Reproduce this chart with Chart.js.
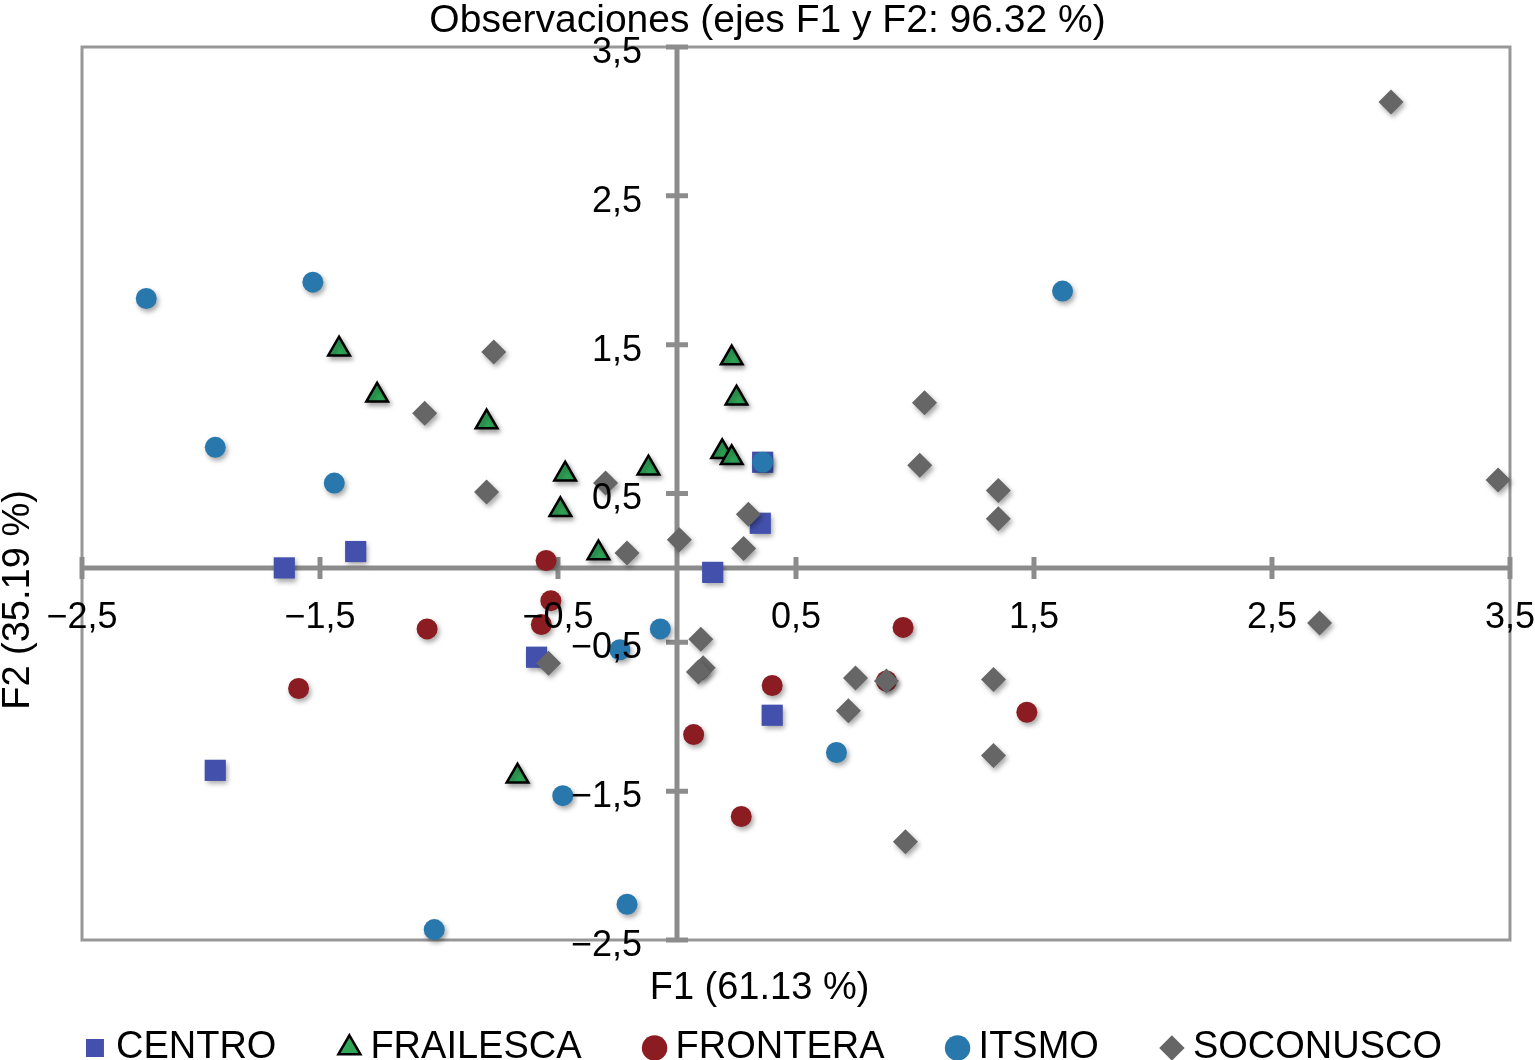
<!DOCTYPE html>
<html lang="es">
<head>
<meta charset="UTF-8">
<title>Observaciones (ejes F1 y F2: 96.32 %)</title>
<script src="https://cdn.jsdelivr.net/npm/chart.js@4"></script>
<style>
  html, body { margin: 0; padding: 0; background: #fff; }
  canvas { display: block; }
</style>
</head>
<body>
<canvas id="biplot" width="1535" height="1060"></canvas>
<script>
// categories (legend order)
const categories = ['CENTRO', 'FRAILESCA', 'FRONTERA', 'ITSMO', 'SOCONUSCO'];

const centro = [
  [-1.65, 0.00], [-1.35, 0.11], [-0.59, -0.60], [-1.94, -1.36],
  [0.15, -0.03], [0.36, 0.71], [0.35, 0.30], [0.40, -0.99]
];
const frailesca = [
  [-1.42, 1.47], [-1.26, 1.16], [-0.80, 0.98], [-0.47, 0.63],
  [-0.49, 0.39], [-0.33, 0.10], [-0.12, 0.67], [0.23, 1.41],
  [0.25, 1.14], [0.19, 0.78], [0.23, 0.74], [-0.67, -1.40]
];
const frontera = [
  [-0.55, 0.05], [-0.53, -0.22], [-0.57, -0.38], [-1.05, -0.41],
  [-1.59, -0.81], [0.07, -1.12], [0.27, -1.67], [0.40, -0.79],
  [0.88, -0.76], [0.95, -0.40], [1.47, -0.97]
];
const itsmo = [
  [-2.23, 1.81], [-1.53, 1.92], [-1.94, 0.81], [-1.44, 0.57],
  [-0.07, -0.41], [-0.24, -0.55], [-0.48, -1.53], [-0.21, -2.26],
  [-1.02, -2.43], [0.67, -1.24], [1.62, 1.86], [0.36, 0.71]
];
const soconusco = [
  [3.00, 3.13], [3.45, 0.59], [2.70, -0.37], [-0.77, 1.45],
  [-1.06, 1.04], [-0.80, 0.51], [-0.30, 0.57], [-0.21, 0.10],
  [0.01, 0.19], [0.28, 0.13], [0.30, 0.36], [1.04, 1.11],
  [1.02, 0.69], [1.35, 0.52], [1.35, 0.33], [0.10, -0.48],
  [0.11, -0.67], [0.09, -0.70], [-0.54, -0.64], [0.75, -0.74],
  [0.88, -0.76], [0.72, -0.96], [1.33, -0.75], [1.33, -1.26],
  [0.96, -1.84]
];

// tick values
const xTicks = [-2.5, -1.5, -0.5, 0.5, 1.5, 2.5, 3.5];
const yTicks = [-2.5, -1.5, -0.5, 0.5, 1.5, 2.5, 3.5];

const chartTitle = 'Observaciones (ejes F1 y F2: 96.32 %)';
const xTitle = 'F1 (61.13 %)';
const yTitle = 'F2 (35.19 %)';

const AXIS_GREY = '#8c8c8c';
const BOX_GREY = '#979797';

Chart.defaults.font.family = "'Liberation Sans', Arial, Helvetica, sans-serif";
Chart.defaults.color = '#000';

// decimal comma and a real minus sign, as in the original
const fmt = v => (v < 0 ? '\u2212' : '') + Math.abs(v).toFixed(1).replace('.', ',');
const toPoints = arr => arr.map(([x, y]) => ({ x, y }));

// frame, zero axes with crossing ticks, axis titles, point shadows
const decor = {
  id: 'decor',
  beforeDatasetsDraw(chart) {
    const { ctx, chartArea: a, scales: { x, y } } = chart;
    const x0 = x.getPixelForValue(0);
    const y0 = y.getPixelForValue(0);
    ctx.save();
    ctx.strokeStyle = BOX_GREY;
    ctx.lineWidth = 3;
    ctx.strokeRect(a.left, a.top, a.right - a.left, a.bottom - a.top);
    ctx.strokeStyle = AXIS_GREY;
    ctx.lineWidth = 5;
    ctx.beginPath();
    ctx.moveTo(a.left, y0);
    ctx.lineTo(a.right, y0);
    ctx.moveTo(x0, a.top);
    ctx.lineTo(x0, a.bottom);
    x.ticks.forEach(t => {
      const px = x.getPixelForValue(t.value);
      ctx.moveTo(px, y0 - 11);
      ctx.lineTo(px, y0 + 11);
    });
    y.ticks.forEach(t => {
      const py = y.getPixelForValue(t.value);
      ctx.moveTo(x0 - 11, py);
      ctx.lineTo(x0 + 11, py);
    });
    ctx.stroke();
    ctx.restore();
  },
  beforeDatasetDraw(chart) {
    const ctx = chart.ctx;
    ctx.save();
    ctx.shadowColor = 'rgba(0,0,0,0.35)';
    ctx.shadowBlur = 5;
    ctx.shadowOffsetX = 2;
    ctx.shadowOffsetY = 3;
  },
  afterDatasetDraw(chart) {
    chart.ctx.restore();
  },
  afterDraw(chart) {
    const { ctx, chartArea: a } = chart;
    ctx.save();
    ctx.fillStyle = '#000';
    ctx.font = "38px 'Liberation Sans', Arial, sans-serif";
    ctx.textAlign = 'center';
    ctx.textBaseline = 'middle';
    ctx.fillText(xTitle, chart.width / 2 - 8, a.bottom + 49);
    ctx.translate(19, a.top + 553);
    ctx.rotate(-Math.PI / 2);
    ctx.fillText(yTitle, 0, 0);
    ctx.restore();
  }
};

const styles = [
  { pointStyle: 'rect',     radius: 15,   color: '#4351ad', border: '#4351ad', width: 0 },
  { pointStyle: 'triangle', radius: 12.5, color: '#2fa557', border: '#000',    width: 2.5 },
  { pointStyle: 'circle',   radius: 10.5, color: '#8b1c22', border: '#8b1c22', width: 0 },
  { pointStyle: 'circle',   radius: 10.5, color: '#2878ad', border: '#2878ad', width: 0 },
  { pointStyle: 'rectRot',  radius: 12.5, color: '#666666', border: '#666666', width: 0 }
];
const series = [centro, frailesca, frontera, itsmo, soconusco];

const datasets = series.map((s, i) => ({
  label: categories[i],
  data: toPoints(s),
  pointStyle: styles[i].pointStyle,
  pointRadius: styles[i].radius,
  pointHoverRadius: styles[i].radius,
  backgroundColor: styles[i].color,
  borderColor: styles[i].border,
  borderWidth: styles[i].width,
  clip: false,
  order: series.length - i   // later regions are drawn on top
}));

new Chart(document.getElementById('biplot'), {
  type: 'scatter',
  data: { datasets },
  plugins: [decor],
  options: {
    responsive: false,
    animation: false,
    events: [],
    layout: { padding: 0 },
    scales: {
      x: {
        type: 'linear',
        min: -2.5,
        max: 3.5,
        position: { y: 0 },
        afterBuildTicks: s => { s.ticks = xTicks.map(v => ({ value: v })); },
        grid: { display: false, drawTicks: true, tickLength: 29 },
        border: { display: false },
        ticks: { z: 1, padding: 0, autoSkip: false, maxRotation: 0, font: { size: 36 }, color: '#000', callback: fmt }
      },
      y: {
        type: 'linear',
        min: -2.5,
        max: 3.5,
        // labels sit a little left of the F1 = 0 line
        position: { x: -0.147 },
        afterBuildTicks: s => { s.ticks = yTicks.map(v => ({ value: v })); },
        grid: { display: false, drawTicks: false },
        border: { display: false },
        ticks: { z: 1, padding: 0, labelOffset: 6, autoSkip: false, font: { size: 36 }, color: '#000', callback: fmt }
      },
      // spacers that leave room for the axis titles
      xs: {
        axis: 'x', type: 'linear', position: 'bottom', min: 0, max: 1,
        grid: { display: false, drawTicks: true, tickLength: 18 },
        border: { display: false },
        ticks: { display: false }
      },
      ys: {
        axis: 'y', type: 'linear', position: 'left', min: 0, max: 1,
        grid: { display: false, drawTicks: true, tickLength: 82 },
        border: { display: false },
        ticks: { display: false }
      }
    },
    plugins: {
      title: {
        display: true,
        text: chartTitle,
        color: '#000',
        font: { size: 39, weight: 'normal', lineHeight: 1 },
        padding: { top: 2, bottom: 6 }
      },
      legend: {
        position: 'bottom',
        maxHeight: 102,
        labels: {
          usePointStyle: true,
          boxWidth: 4,
          boxHeight: 18,
          padding: 71,
          color: '#000',
          font: { size: 38 },
          sort: (a, b) => a.datasetIndex - b.datasetIndex
        }
      },
      tooltip: { enabled: false }
    }
  }
});
</script>
</body>
</html>
